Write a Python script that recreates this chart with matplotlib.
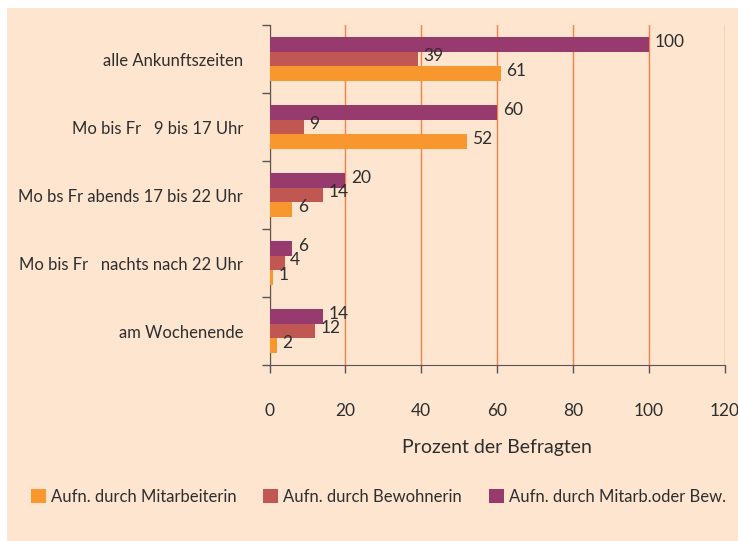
import matplotlib
matplotlib.use("Agg")
import matplotlib.pyplot as plt
from matplotlib.patches import Rectangle
import numpy as np

categories = ["alle Ankunftszeiten", "Mo bis Fr   9 bis 17 Uhr", "Mo bs Fr abends 17 bis 22 Uhr",
              "Mo bis Fr   nachts nach 22 Uhr", "am Wochenende"]
series_names = ["Aufn. durch Mitarbeiterin", "Aufn. durch Bewohnerin", "Aufn. durch Mitarb.oder Bew."]
mitarbeiterin = [61, 52, 6, 1, 2]
bewohnerin = [39, 9, 14, 4, 12]
beide = [100, 60, 20, 6, 14]
xticks = [0, 20, 40, 60, 80, 100, 120]

colors = ["#F7972D", "#C05753", "#973A6E"]
bg = "#FDE5CF"
text_col = "#2E2E2E"

plt.rcParams['font.family'] = ['Lato', 'Roboto', 'DejaVu Sans']
fs = 12

fig = plt.figure(figsize=(7.38, 5.41), dpi=100)
fig.patch.set_facecolor("white")
fig.patches.append(Rectangle((7/738, 0), 1 - 7/738, 1 - 8/541, transform=fig.transFigure,
                             facecolor=bg, edgecolor="none", zorder=-10))

W, H = 738, 541
ax = fig.add_axes([269.5/W, 1 - 365/H, (725 - 269.5)/W, (365 - 25)/H])
ax.set_facecolor("none")

n = len(categories)
y = np.arange(n)
bh = 0.213
series = [mitarbeiterin, bewohnerin, beide]
offsets = [bh, 0, -bh]
for vals, col, off, name in zip(series, colors, offsets, series_names):
    bars = ax.barh(y + off, vals, height=bh, color=col, label=name, zorder=3)
    for b, v in zip(bars, vals):
        ax.annotate(str(v), (b.get_width(), b.get_y() + b.get_height() / 2),
                    xytext=(4, 2), textcoords="offset points", ha="left", va="center",
                    fontsize=12.5, color=text_col, zorder=4)

ax.set_xlim(0, 120)
ax.set_ylim(n - 0.5, -0.5)
ax.set_xticks(xticks)
ax.set_xticklabels([str(t) for t in xticks], fontsize=12.5, color=text_col)
ax.set_yticks(np.arange(n + 1) - 0.5, minor=False)
ax.set_yticklabels([])
ax.set_yticks(y, minor=True)
ax.set_yticklabels(categories, minor=True, fontsize=fs, color=text_col)
ax.tick_params(axis='y', which='minor', length=0, pad=19)
ax.tick_params(axis='y', which='major', length=6, color="#555555", width=1)
ax.tick_params(axis='x', length=6, color="#555555", width=1, pad=21)

ax.xaxis.grid(True, color="#F4804A", linewidth=1, zorder=0)
for s in ["top", "right"]:
    ax.spines[s].set_visible(False)
ax.spines["left"].set_color("#555555")
ax.spines["bottom"].set_color("#555555")

ax.set_xlabel("Prozent der Befragten", fontsize=14, color=text_col, labelpad=15)

handles, labels = ax.get_legend_handles_labels()
leg = fig.legend(handles, labels, loc="center left", bbox_to_anchor=(16/W, 1 - 497/H),
                 ncol=3, frameon=False, fontsize=fs, handlelength=0.9, handleheight=0.9,
                 handletextpad=0.3, columnspacing=1.6, labelcolor=text_col)

fig.savefig("out.png", dpi=100, facecolor=fig.get_facecolor())
